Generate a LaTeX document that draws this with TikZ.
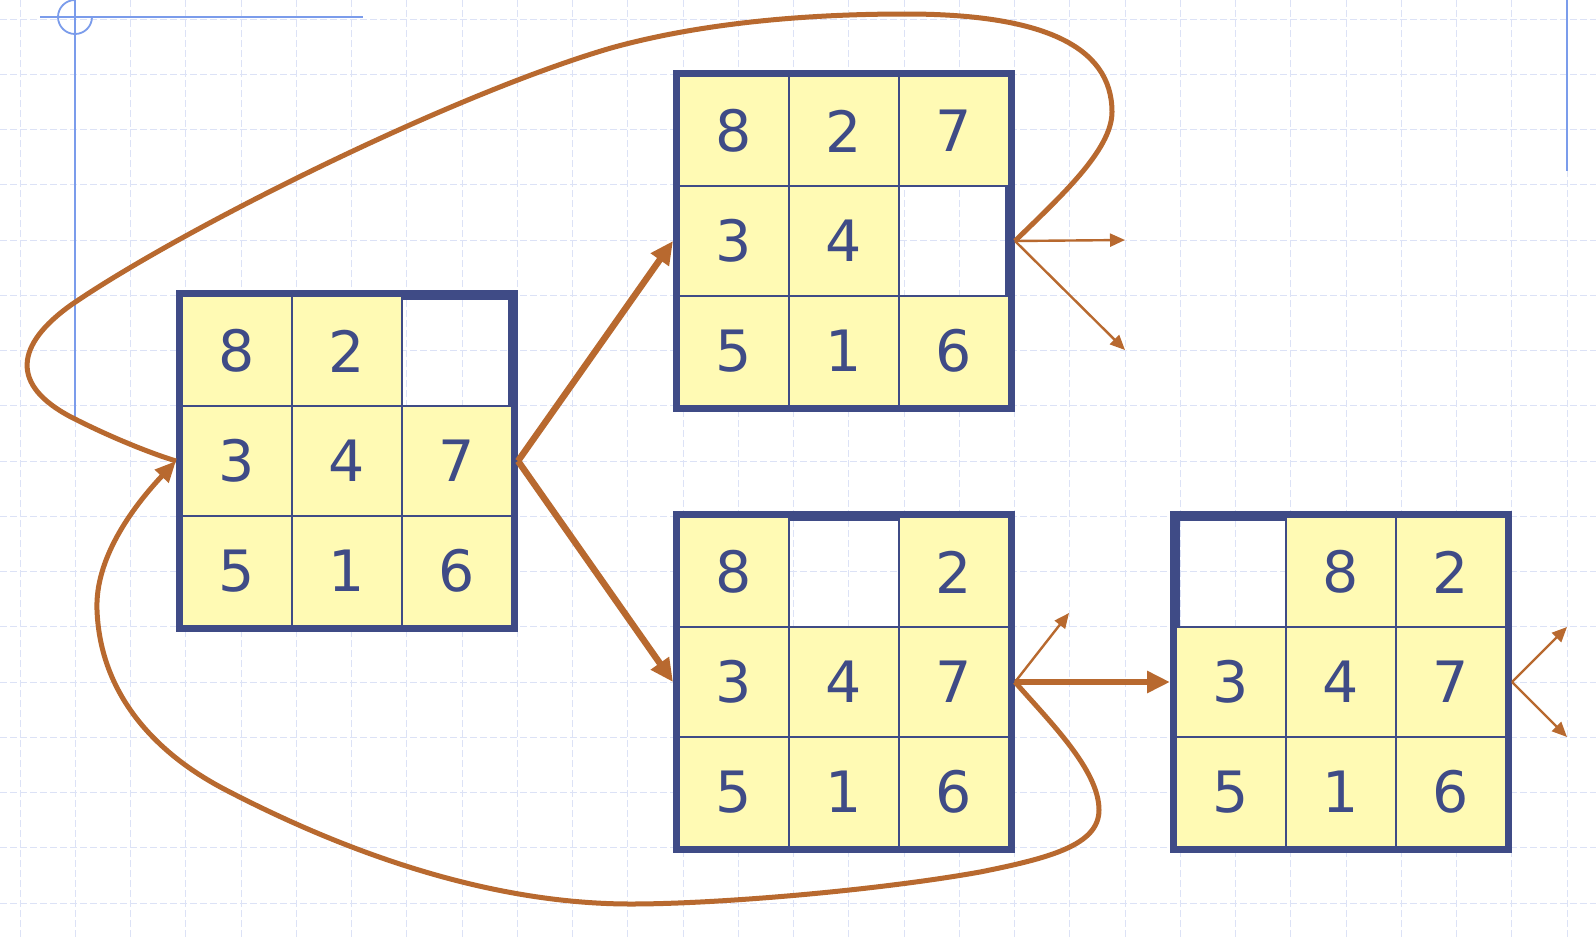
\documentclass[tikz,border=0pt]{standalone}
\usepackage{fontspec}
\newfontfamily\digitfont{DejaVu Sans}
\usetikzlibrary{arrows.meta}
\definecolor{frameblue}{HTML}{3F4B86}
\definecolor{cellyellow}{HTML}{FFFAB4}
\definecolor{brownline}{HTML}{B8692F}
\definecolor{guideblue}{HTML}{7B9CEB}
\definecolor{gridcol}{HTML}{DCE2F6}
\tikzset{
 gridline/.style={gridcol, line width=1pt, dash pattern=on 7pt off 3pt},
 guide/.style={guideblue, line width=1.8pt},
 boardframe/.style={draw=frameblue, line width=10pt, minimum size=332pt, inner sep=0pt, rectangle},
 tile/.style={draw=frameblue, line width=1.6pt, fill=cellyellow, minimum size=110pt, inner sep=0pt, text=frameblue, font=\digitfont\fontsize{57}{60}\selectfont},
 loopcurve/.style={brownline, line width=5pt},
 bigarrow/.style={brownline, line width=6.5pt, -{Triangle[length=23pt,width=21pt]}},
 smallarrow/.style={brownline, line width=2.4pt, -{Triangle[length=15pt,width=13pt]}},
}
\newcommand\puzzleboard[4]{%
 \node[boardframe] (#1) at (#2+165,#3+165) {};
 \foreach \c/\r/\d in {#4} {\node[tile] (#1-\c\r) at (#2+55+110*\c,#3+55+110*\r) {\d};}
}
\begin{document}
\begin{tikzpicture}[x=1pt,y=-1pt]
\fill[white] (0,0) rectangle (1596,940);
\useasboundingbox (0,0) rectangle (1596,940);
% grid
\foreach \i in {0,...,28} \draw[gridline] (20+55.25*\i,0) -- (20+55.25*\i,940);
\foreach \j in {0,...,16} \draw[gridline] (0,19+55.25*\j) -- (1596,19+55.25*\j);
% guide lines
\draw[guide] (40,17) -- (363,17);
\draw[guide] (75,0) -- (75,417);
\draw[guide] (75,0) arc[start angle=90, end angle=360, radius=17pt];
\draw[guide] (1567,0) -- (1567,171);
% boards
\puzzleboard{A}{182}{296}{0/0/8,1/0/2,0/1/3,1/1/4,2/1/7,0/2/5,1/2/1,2/2/6}
\puzzleboard{B}{679}{76}{0/0/8,1/0/2,2/0/7,0/1/3,1/1/4,0/2/5,1/2/1,2/2/6}
\puzzleboard{C}{679}{517}{0/0/8,2/0/2,0/1/3,1/1/4,2/1/7,0/2/5,1/2/1,2/2/6}
\puzzleboard{D}{1176}{517}{1/0/8,2/0/2,0/1/3,1/1/4,2/1/7,0/2/5,1/2/1,2/2/6}
% free ends
\coordinate (b1) at (1125,240);
\coordinate (b2) at (1125,350);
\coordinate (c1) at (1069,613);
\coordinate (d1) at (1567,627);
\coordinate (d2) at (1567,737);
% arrows
\draw[bigarrow] (A.east) -- (B.west);
\draw[bigarrow] (A.east) -- (C.west);
\draw[bigarrow] (C.east) -- (D.west);
\draw[smallarrow] (B.east) -- (b1);
\draw[smallarrow] (B.east) -- (b2);
\draw[smallarrow] (C.east) -- (c1);
\draw[smallarrow] (D.east) -- (d1);
\draw[smallarrow] (D.east) -- (d2);
% loops
\draw[loopcurve] (B.east) .. controls (1060,197) and (1112,150) .. (1112,112)
  .. controls (1112,45) and (1040,14) .. (906,14)
  .. controls (790,14) and (690,26) .. (611,48)
  .. controls (450,95) and (180,230) .. (71,305)
  .. controls (15,345) and (10,385) .. (71,417)
  .. controls (110,437) and (150,453) .. (A.west);
\draw[loopcurve, -{Triangle[length=21pt,width=18pt]}] (C.east) .. controls (1050,722) and (1099,770) .. (1099,810)
  .. controls (1099,845) and (1050,858) .. (980,872)
  .. controls (880,890) and (720,904) .. (631,904)
  .. controls (500,904) and (360,860) .. (224,789)
  .. controls (150,750) and (100,690) .. (97,610)
  .. controls (95,560) and (130,510) .. (A.west);
\end{tikzpicture}
\end{document}
